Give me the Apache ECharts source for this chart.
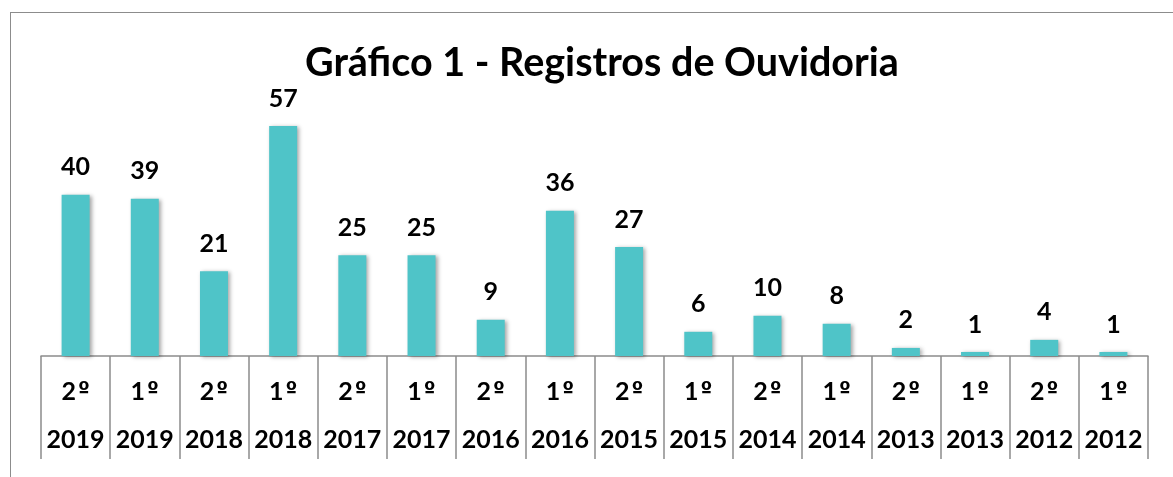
<!DOCTYPE html>
<html>
<head>
<meta charset="utf-8">
<script src="https://cdn.jsdelivr.net/npm/echarts@6/dist/echarts.min.js"></script>
<style>
  html, body { margin: 0; padding: 0; background: #fff; }
  #frame {
    position: absolute; left: 10px; top: 12px; right: -5px; bottom: -5px;
    border-left: 1.5px solid #8c8c8c; border-top: 1.5px solid #8c8c8c;
  }
  #chart { position: absolute; left: 0; top: 0; width: 1173px; height: 477px; }
</style>
</head>
<body>
<div id="frame"></div>
<div id="chart"></div>
<script>
  // semestre / ano, da esquerda para a direita
  var periods = ['2º', '1º', '2º', '1º', '2º', '1º', '2º', '1º', '2º', '1º', '2º', '1º', '2º', '1º', '2º', '1º'];
  var years = ['2019', '2019', '2018', '2018', '2017', '2017', '2016', '2016', '2015', '2015', '2014', '2014', '2013', '2013', '2012', '2012'];
  var registros = [40, 39, 21, 57, 25, 25, 9, 36, 27, 6, 10, 8, 2, 1, 4, 1];

  var categories = periods.map(function (p, i) { return p + '|' + years[i]; });
  var fontFam = 'Lato, "Open Sans", sans-serif';

  var chart = echarts.init(document.getElementById('chart'));
  chart.setOption({
    animation: false,
    title: {
      text: 'Gráfico 1 - Registros de Ouvidoria',
      left: 300,
      top: 38,
      textStyle: { fontFamily: fontFam, fontWeight: 'bold', fontSize: 39.5, color: '#000' }
    },
    grid: { left: 41, right: 25, top: 114, bottom: 121 },
    xAxis: {
      type: 'category',
      data: categories,
      axisLine: { show: true, lineStyle: { color: '#8c8c8c', width: 1.5 } },
      axisTick: { show: true, length: 103, interval: 0, alignWithLabel: false, lineStyle: { color: '#8c8c8c', width: 1.5 } },
      axisLabel: {
        interval: 0,
        margin: 12,
        lineHeight: 48,
        fontFamily: fontFam,
        fontWeight: 'bold',
        fontSize: 25,
        color: '#000',
        formatter: function (v) {
          var parts = v.split('|');
          var num = parts[0].replace('º', '');
          return '{n|' + num + '}{o|º}\n{n|' + parts[1] + '}';
        },
        rich: {
          n: { fontFamily: fontFam, fontWeight: 'bold', fontSize: 25, lineHeight: 48, color: '#000' },
          o: { fontFamily: '"DejaVu Sans"', fontWeight: 'bold', fontSize: 21, lineHeight: 48, color: '#000', padding: [0, 0, 0, 2] }
        }
      }
    },
    yAxis: {
      type: 'value',
      min: 0,
      max: 60,
      show: false
    },
    series: [{
      type: 'bar',
      data: registros,
      barWidth: 28,
      itemStyle: {
        color: '#4fc4c8',
        shadowBlur: 4,
        shadowColor: 'rgba(0,0,0,0.35)',
        shadowOffsetX: 2,
        shadowOffsetY: 1
      },
      label: {
        show: true,
        position: 'top',
        distance: 15,
        fontFamily: fontFam,
        fontWeight: 'bold',
        fontSize: 25,
        color: '#000'
      }
    }]
  });
</script>
</body>
</html>
